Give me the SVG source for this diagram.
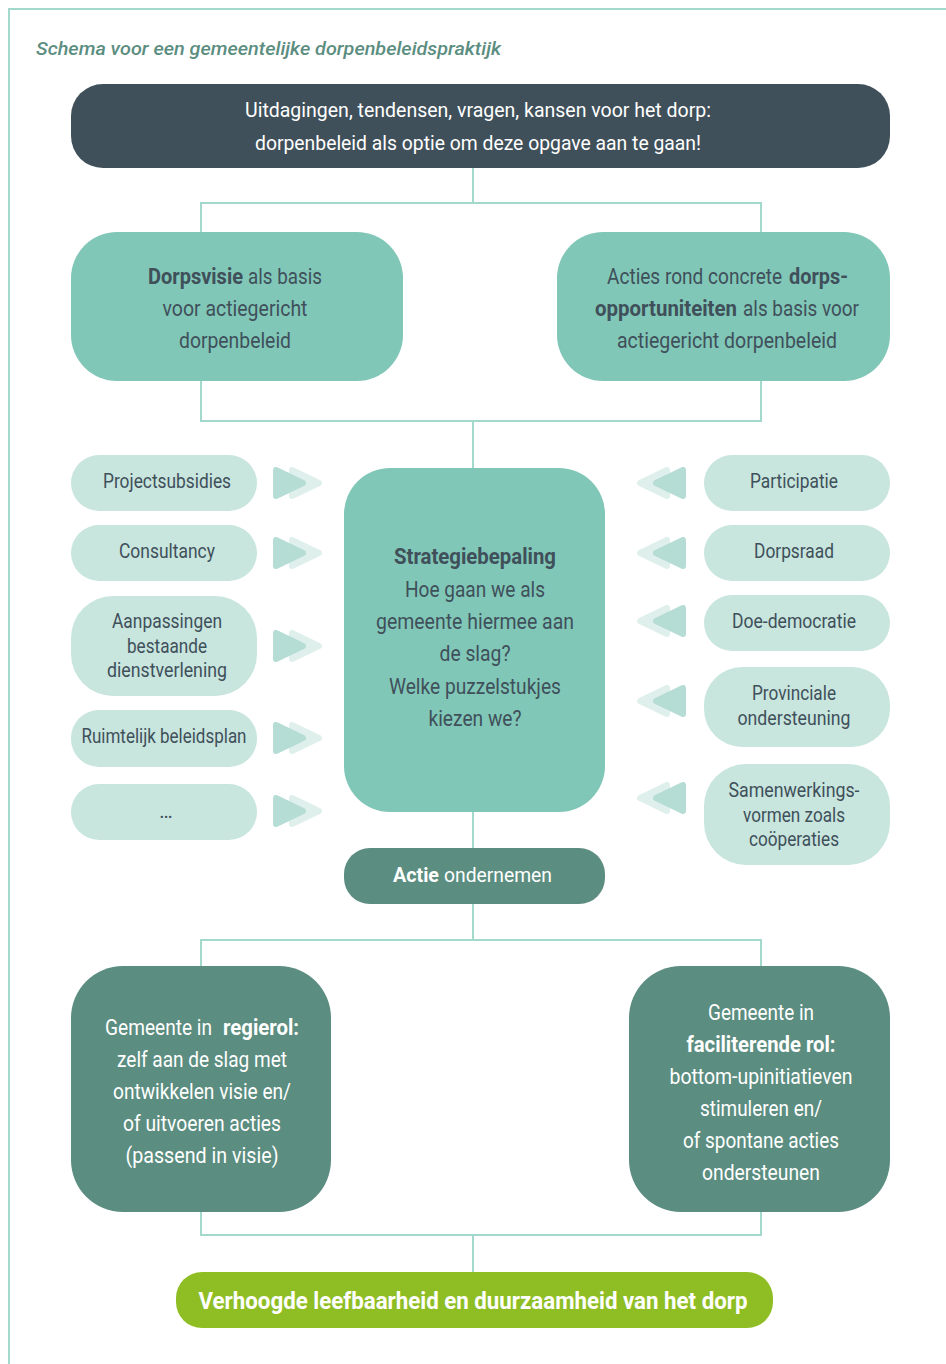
<svg xmlns="http://www.w3.org/2000/svg" xmlns:xlink="http://www.w3.org/1999/xlink" width="946" height="1364" viewBox="0 0 946 1364">
<style>
text{font-family:Roboto,"Liberation Sans",sans-serif;text-anchor:middle}
.st{text-anchor:start}
.dk{fill:#3f505a}
.wh{fill:#ffffff}
.b{font-weight:bold}
.con{fill:none;stroke:#a3d8cd;stroke-width:2}
.mid{fill:#81c7b8}
.lt{fill:#c8e5de}
.dt{fill:#5b8d80}
.f22{font-size:22px}
.f20{font-size:20px}
</style>
<defs>
<g id="arrR">
<polygon points="292,-13 292,13 319,0" fill="#dff0ec" stroke="#dff0ec" stroke-width="6" stroke-linejoin="round"/>
<polygon points="276,-13 276,13 303,0" fill="#b3dcd3" stroke="#b3dcd3" stroke-width="6" stroke-linejoin="round" opacity="0.95"/>
</g>
<g id="arrL">
<polygon points="667,-13 667,13 640,0" fill="#dff0ec" stroke="#dff0ec" stroke-width="6" stroke-linejoin="round"/>
<polygon points="683,-13 683,13 656,0" fill="#b3dcd3" stroke="#b3dcd3" stroke-width="6" stroke-linejoin="round" opacity="0.95"/>
</g>
</defs>
<rect width="946" height="1364" fill="#ffffff"/>
<path d="M946 9 H9 V1364" class="con"/>
<text x="36" y="55" class="st" style="font-style:italic;font-weight:500;font-size:18px;fill:#5b8d80" textLength="465" lengthAdjust="spacingAndGlyphs">Schema voor een gemeentelijke dorpenbeleidspraktijk</text>

<g id="connectors">
<path class="con" d="M473 168 V203 M201 232 V203 H761 V232"/>
<path class="con" d="M201 381 V421 H761 V381 M473 421 V468"/>
<path class="con" d="M473 812 V848 M473 904 V940 M201 966 V940 H761 V966"/>
<path class="con" d="M201 1212 V1235 H761 V1212 M473 1235 V1272"/>
<use xlink:href="#arrR" y="483"/>
<use xlink:href="#arrR" y="553"/>
<use xlink:href="#arrR" y="646"/>
<use xlink:href="#arrR" y="738"/>
<use xlink:href="#arrR" y="811"/>
<use xlink:href="#arrL" y="483"/>
<use xlink:href="#arrL" y="553"/>
<use xlink:href="#arrL" y="621"/>
<use xlink:href="#arrL" y="701"/>
<use xlink:href="#arrL" y="798"/>
</g>

<g id="top">
<rect x="71" y="84" width="819" height="84" rx="32" fill="#3f505a"/>
<text x="478" y="117" class="wh" style="font-size:21px" textLength="466" lengthAdjust="spacingAndGlyphs">Uitdagingen, tendensen, vragen, kansen voor het dorp:</text>
<text x="478" y="150" class="wh" style="font-size:21px" textLength="446" lengthAdjust="spacingAndGlyphs">dorpenbeleid als optie om deze opgave aan te gaan!</text>
</g>

<g id="dorpsvisie">
<rect x="71" y="232" width="332" height="149" rx="46" class="mid"/>
<text x="148" y="284" class="dk f22 b st" textLength="95" lengthAdjust="spacingAndGlyphs">Dorpsvisie</text>
<text x="248" y="284" class="dk f22 st" textLength="74" lengthAdjust="spacingAndGlyphs">als basis</text>
<text x="235" y="316" class="dk f22" textLength="145" lengthAdjust="spacingAndGlyphs">voor actiegericht</text>
<text x="235" y="348" class="dk f22" textLength="112" lengthAdjust="spacingAndGlyphs">dorpenbeleid</text>
</g>

<g id="acties">
<rect x="557" y="232" width="333" height="149" rx="46" class="mid"/>
<text transform="translate(607 284) scale(0.85 1)" x="0" y="0" class="dk f22 st" textLength="206" lengthAdjust="spacingAndGlyphs">Acties rond concrete</text>
<text x="789" y="284" class="dk f22 b st" textLength="59" lengthAdjust="spacingAndGlyphs">dorps-</text>
<text x="595" y="316" class="dk f22 b st" textLength="142" lengthAdjust="spacingAndGlyphs">opportuniteiten</text>
<text x="743" y="316" class="dk f22 st" textLength="116" lengthAdjust="spacingAndGlyphs">als basis voor</text>
<text x="727" y="348" class="dk f22" textLength="220" lengthAdjust="spacingAndGlyphs">actiegericht dorpenbeleid</text>
</g>

<g id="strategie">
<rect x="344" y="468" width="261" height="344" rx="46" class="mid"/>
<text x="475" y="564" class="dk f22 b" textLength="162" lengthAdjust="spacingAndGlyphs">Strategiebepaling</text>
<text x="475" y="597" class="dk f22" textLength="140" lengthAdjust="spacingAndGlyphs">Hoe gaan we als</text>
<text x="475" y="629" class="dk f22" textLength="198" lengthAdjust="spacingAndGlyphs">gemeente hiermee aan</text>
<text x="475" y="661" class="dk f22" textLength="71" lengthAdjust="spacingAndGlyphs">de slag?</text>
<text x="475" y="694" class="dk f22" textLength="172" lengthAdjust="spacingAndGlyphs">Welke puzzelstukjes</text>
<text x="475" y="726" class="dk f22" textLength="93" lengthAdjust="spacingAndGlyphs">kiezen we?</text>
</g>

<g id="projectsubsidies">
<rect x="71" y="455" width="186" height="56" rx="28" class="lt"/>
<text x="167" y="488" class="dk f20" textLength="128" lengthAdjust="spacingAndGlyphs">Projectsubsidies</text>
</g>
<g id="consultancy">
<rect x="71" y="525" width="186" height="56" rx="28" class="lt"/>
<text x="167" y="558" class="dk f20" textLength="96" lengthAdjust="spacingAndGlyphs">Consultancy</text>
</g>
<g id="aanpassingen">
<rect x="71" y="596" width="186" height="100" rx="42" class="lt"/>
<text x="167" y="628" class="dk f20" textLength="110" lengthAdjust="spacingAndGlyphs">Aanpassingen</text>
<text x="167" y="653" class="dk f20" textLength="80" lengthAdjust="spacingAndGlyphs">bestaande</text>
<text x="167" y="677" class="dk f20" textLength="120" lengthAdjust="spacingAndGlyphs">dienstverlening</text>
</g>
<g id="ruimtelijk">
<rect x="71" y="710" width="186" height="57" rx="28" class="lt"/>
<text x="164" y="743" class="dk f20" textLength="165" lengthAdjust="spacingAndGlyphs">Ruimtelijk beleidsplan</text>
</g>
<g id="etc">
<rect x="71" y="784" width="186" height="56" rx="28" class="lt"/>
<text x="166" y="818" class="dk f20">…</text>
</g>

<g id="participatie">
<rect x="704" y="455" width="186" height="56" rx="28" class="lt"/>
<text x="794" y="488" class="dk f20" textLength="88" lengthAdjust="spacingAndGlyphs">Participatie</text>
</g>
<g id="dorpsraad">
<rect x="704" y="525" width="186" height="56" rx="28" class="lt"/>
<text x="794" y="558" class="dk f20" textLength="80" lengthAdjust="spacingAndGlyphs">Dorpsraad</text>
</g>
<g id="doedemocratie">
<rect x="704" y="595" width="186" height="56" rx="28" class="lt"/>
<text x="794" y="628" class="dk f20" textLength="124" lengthAdjust="spacingAndGlyphs">Doe-democratie</text>
</g>
<g id="provinciale">
<rect x="704" y="667" width="186" height="80" rx="38" class="lt"/>
<text x="794" y="700" class="dk f20" textLength="84" lengthAdjust="spacingAndGlyphs">Provinciale</text>
<text x="794" y="725" class="dk f20" textLength="113" lengthAdjust="spacingAndGlyphs">ondersteuning</text>
</g>
<g id="samenwerking">
<rect x="704" y="764" width="186" height="101" rx="42" class="lt"/>
<text x="794" y="797" class="dk f20" textLength="131" lengthAdjust="spacingAndGlyphs">Samenwerkings-</text>
<text x="794" y="822" class="dk f20" textLength="102" lengthAdjust="spacingAndGlyphs">vormen zoals</text>
<text x="794" y="846" class="dk f20" textLength="90" lengthAdjust="spacingAndGlyphs">coöperaties</text>
</g>

<g id="actie">
<rect x="344" y="848" width="261" height="56" rx="26" class="dt"/>
<text x="393" y="882" class="wh b st" style="font-size:21px" textLength="46" lengthAdjust="spacingAndGlyphs">Actie</text>
<text x="444" y="882" class="wh st" style="font-size:21px" textLength="108" lengthAdjust="spacingAndGlyphs">ondernemen</text>
</g>

<g id="regierol">
<rect x="71" y="966" width="260" height="246" rx="52" class="dt"/>
<text x="105" y="1035" class="wh f22 st" textLength="107" lengthAdjust="spacingAndGlyphs">Gemeente in</text>
<text x="223" y="1035" class="wh f22 b st" textLength="76" lengthAdjust="spacingAndGlyphs">regierol:</text>
<text x="202" y="1067" class="wh f22" textLength="170" lengthAdjust="spacingAndGlyphs">zelf aan de slag met</text>
<text x="202" y="1099" class="wh f22" textLength="178" lengthAdjust="spacingAndGlyphs">ontwikkelen visie en/</text>
<text x="202" y="1131" class="wh f22" textLength="158" lengthAdjust="spacingAndGlyphs">of uitvoeren acties</text>
<text x="202" y="1163" class="wh f22" textLength="153" lengthAdjust="spacingAndGlyphs">(passend in visie)</text>
</g>

<g id="faciliterend">
<rect x="629" y="966" width="261" height="246" rx="52" class="dt"/>
<text x="761" y="1020" class="wh f22" textLength="106" lengthAdjust="spacingAndGlyphs">Gemeente in</text>
<text x="761" y="1052" class="wh f22 b" textLength="149" lengthAdjust="spacingAndGlyphs">faciliterende rol:</text>
<text x="761" y="1084" class="wh f22" textLength="183" lengthAdjust="spacingAndGlyphs">bottom-upinitiatieven</text>
<text x="761" y="1116" class="wh f22" textLength="122" lengthAdjust="spacingAndGlyphs">stimuleren en/</text>
<text x="761" y="1148" class="wh f22" textLength="156" lengthAdjust="spacingAndGlyphs">of spontane acties</text>
<text x="761" y="1180" class="wh f22" textLength="118" lengthAdjust="spacingAndGlyphs">ondersteunen</text>
</g>

<g id="resultaat">
<rect x="176" y="1272" width="597" height="56" rx="26" fill="#8fbe24"/>
<text x="473" y="1309" class="wh b" style="font-size:24px" textLength="549" lengthAdjust="spacingAndGlyphs">Verhoogde leefbaarheid en duurzaamheid van het dorp</text>
</g>
</svg>
